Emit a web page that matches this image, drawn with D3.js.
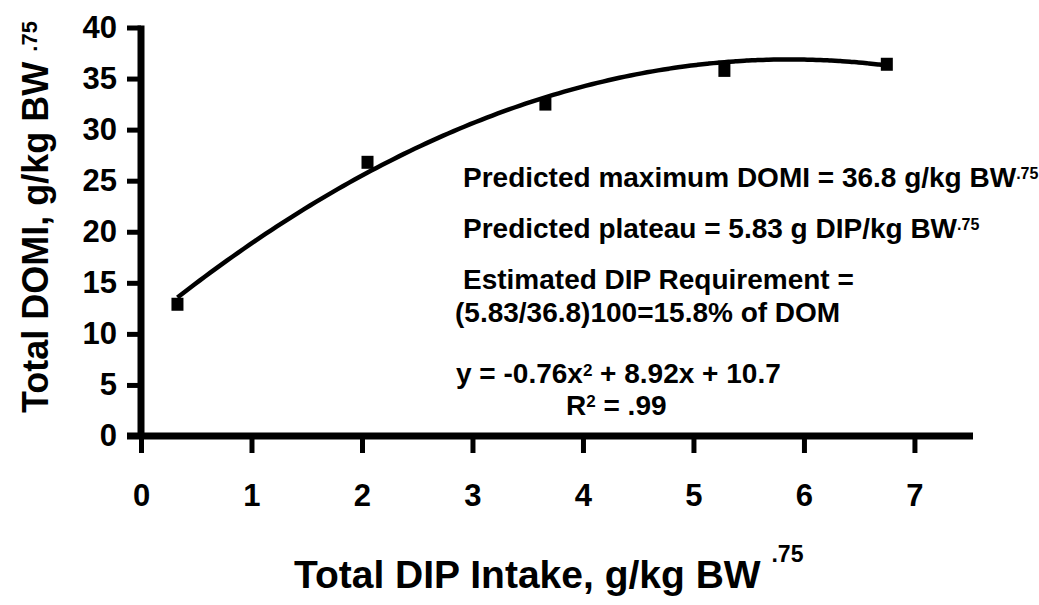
<!DOCTYPE html>
<html>
<head>
<meta charset="utf-8">
<script src="https://cdn.jsdelivr.net/npm/d3@7"></script>
<style>
    html, body { margin: 0; padding: 0; background: #fff; }
    svg { display: block; }
    text { font-family: "Liberation Sans", Arial, sans-serif; font-weight: bold; fill: #000; }
</style>
</head>
<body>
<div id="chart"></div>
<script>
(function()
{
    const dipIntake = [0.33, 2.05, 3.66, 5.28, 6.75];
    const domIntake = [12.9, 26.8, 32.5, 35.8, 36.4];

    // fitted quadratic as printed on the chart: y = c0 + c1 x + c2 x^2
    const fitCoef = [10.7, 8.92, -0.76];

    const xTicks = [0, 1, 2, 3, 4, 5, 6, 7];
    const yTicks = [0, 5, 10, 15, 20, 25, 30, 35, 40];

    const annotations = [
        { x: 463, y: 187, text: "Predicted maximum DOMI = 36.8 g/kg BW", sup: ".75" },
        { x: 463, y: 238, text: "Predicted plateau = 5.83 g DIP/kg BW", sup: ".75" },
        { x: 463, y: 289, text: "Estimated DIP Requirement =" },
        { x: 455, y: 322, text: "(5.83/36.8)100=15.8% of DOM" }
    ];

    const W = 1039, H = 605;
    const X0 = 141, X1 = 973;   // x axis pixel span
    const Y0 = 436, Y1 = 27.5;  // y axis pixel span

    var svg = d3.select("#chart").append("svg")
        .attr("width", W)
        .attr("height", H);

    svg.append("rect").attr("width", W).attr("height", H).attr("fill", "#fff");

    var x = d3.scaleLinear().domain([0, 7.53]).range([X0, X1]);
    var y = d3.scaleLinear().domain([0, 40]).range([Y0, Y1]);

    // axes
    var yAxis = svg.append("g")
        .attr("transform", "translate(" + X0 + ",0)")
        .call(d3.axisLeft(y).tickValues(yTicks).tickSize(14).tickSizeOuter(0).tickPadding(10));

    var xAxis = svg.append("g")
        .attr("transform", "translate(0," + Y0 + ")")
        .call(d3.axisBottom(x).tickValues(xTicks).tickSize(17).tickSizeOuter(0).tickPadding(31));

    [yAxis, xAxis].forEach(function(g) {
        g.attr("font-family", null).attr("font-size", null);
        g.select(".domain").attr("stroke", "#000").attr("stroke-width", 7);
        g.selectAll(".tick line").attr("stroke", "#000").attr("stroke-width", 5);
        g.selectAll(".tick text").style("font-size", "31px");
    });
    // stretch the x axis back to the y tick at zero
    xAxis.select(".domain").attr("d", "M" + (X0 - 14) + ",0H" + X1);
    yAxis.select(".domain").attr("d", "M0," + (Y0 + 3) + "V" + (Y1 - 2));

    // fitted curve
    function fit(v) {
        return fitCoef[0] + fitCoef[1] * v + fitCoef[2] * v * v;
    }
    var xs = d3.range(dipIntake[0], dipIntake[dipIntake.length - 1] + 0.001, 0.05);
    var line = d3.line()
        .x(function(d) { return x(d); })
        .y(function(d) { return y(fit(d)); })
        .curve(d3.curveBasis);

    svg.append("path")
        .datum(xs)
        .attr("d", line)
        .attr("fill", "none")
        .attr("stroke", "#000")
        .attr("stroke-width", 4.5);

    // markers
    var MW = 12, MH = 13;
    svg.selectAll("rect.pt")
        .data(dipIntake)
        .enter()
        .append("rect")
        .attr("class", "pt")
        .attr("x", function(d) { return x(d) - MW / 2; })
        .attr("y", function(d, i) { return y(domIntake[i]) - MH / 2; })
        .attr("width", MW)
        .attr("height", MH)
        .attr("fill", "#000");

    // annotations
    annotations.forEach(function(a) {
        var t = svg.append("text")
            .attr("x", a.x)
            .attr("y", a.y)
            .style("font-size", "28px")
            .text(a.text);
        if (a.sup) {
            t.append("tspan")
                .attr("dy", -8)
                .style("font-size", "16px")
                .text(a.sup);
        }
    });

    var eq = svg.append("text")
        .attr("x", 456)
        .attr("y", 383)
        .style("font-size", "28px");
    eq.append("tspan").text("y = -0.76x");
    eq.append("tspan").attr("dy", -7).style("font-size", "17px").text("2");
    eq.append("tspan").attr("dy", 7).text(" + 8.92x + 10.7");

    var r2 = svg.append("text")
        .attr("x", 566)
        .attr("y", 415)
        .style("font-size", "28px");
    r2.append("tspan").text("R");
    r2.append("tspan").attr("dy", -8).style("font-size", "17px").text("2");
    r2.append("tspan").attr("dy", 8).text(" = .99");

    // axis titles
    var xt = svg.append("text")
        .attr("x", 294)
        .attr("y", 588)
        .style("font-size", "39px");
    xt.append("tspan").text("Total DIP Intake, g/kg BW ");
    xt.append("tspan").attr("dy", -26).style("font-size", "23px").text(".75");

    var yt = svg.append("text")
        .attr("transform", "translate(48,413) rotate(-90)")
        .style("font-size", "36px");
    yt.append("tspan").text("Total DOMI, g/kg BW ");
    yt.append("tspan").attr("dy", -11).style("font-size", "22px").text(".75");
})();
</script>
</body>
</html>
